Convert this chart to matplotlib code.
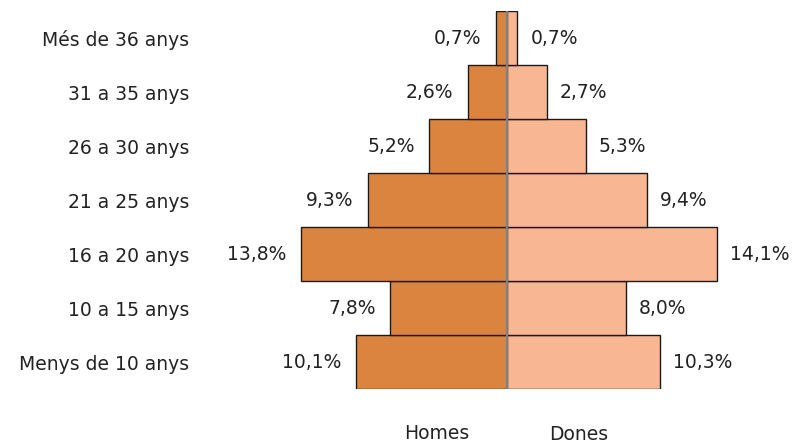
import matplotlib.pyplot as plt

# age groups, bottom to top
groups = ["Menys de 10 anys", "10 a 15 anys", "16 a 20 anys", "21 a 25 anys",
          "26 a 30 anys", "31 a 35 anys", "Més de 36 anys"]
homes = [10.1, 7.8, 13.8, 9.3, 5.2, 2.6, 0.7]
dones = [10.3, 8.0, 14.1, 9.4, 5.3, 2.7, 0.7]

W, H = 792, 443
TEXT = "#222222"
FS = 13.5


def fmt(v):
    return f"{v:.1f}".replace(".", ",") + "%"


fig = plt.figure(figsize=(W / 100, H / 100), dpi=100)
# axes: pixels 200..792 horizontally, bars from y=11 to y=389
ax = fig.add_axes([200 / W, (H - 389) / H, (W - 200) / W, 378 / H])

ypos = list(range(len(groups)))
ax.barh(ypos, [-v for v in homes], height=1.0, color="#DB8440",
        edgecolor="#1a1a1a", linewidth=1.0)
ax.barh(ypos, dones, height=1.0, color="#F8B692",
        edgecolor="#1a1a1a", linewidth=1.0)
ax.axvline(0, color="#808080", linewidth=1.6)

for y, h, d in zip(ypos, homes, dones):
    ax.annotate(fmt(h), (-h, y), xytext=(-10.5, 0), textcoords="offset points",
                ha="right", va="center", fontsize=FS, color=TEXT)
    ax.annotate(fmt(d), (d, y), xytext=(9.5, 0), textcoords="offset points",
                ha="left", va="center", fontsize=FS, color=TEXT)

ax.set_xlim(-20.58, 19.15)
ax.set_ylim(-0.5, 6.5)
ax.set_yticks(ypos)
ax.set_yticklabels(groups, fontsize=FS, color=TEXT)
ax.tick_params(axis="y", length=0, pad=8.0)
ax.set_xticks([])
for s in ax.spines.values():
    s.set_visible(False)

ax.text(-4.68, -1.42, "Homes", ha="center", va="baseline", fontsize=FS,
        color=TEXT, clip_on=False)
ax.text(4.85, -1.45, "Dones", ha="center", va="baseline", fontsize=FS,
        color=TEXT, clip_on=False)

fig.savefig("out.png", dpi=100)
